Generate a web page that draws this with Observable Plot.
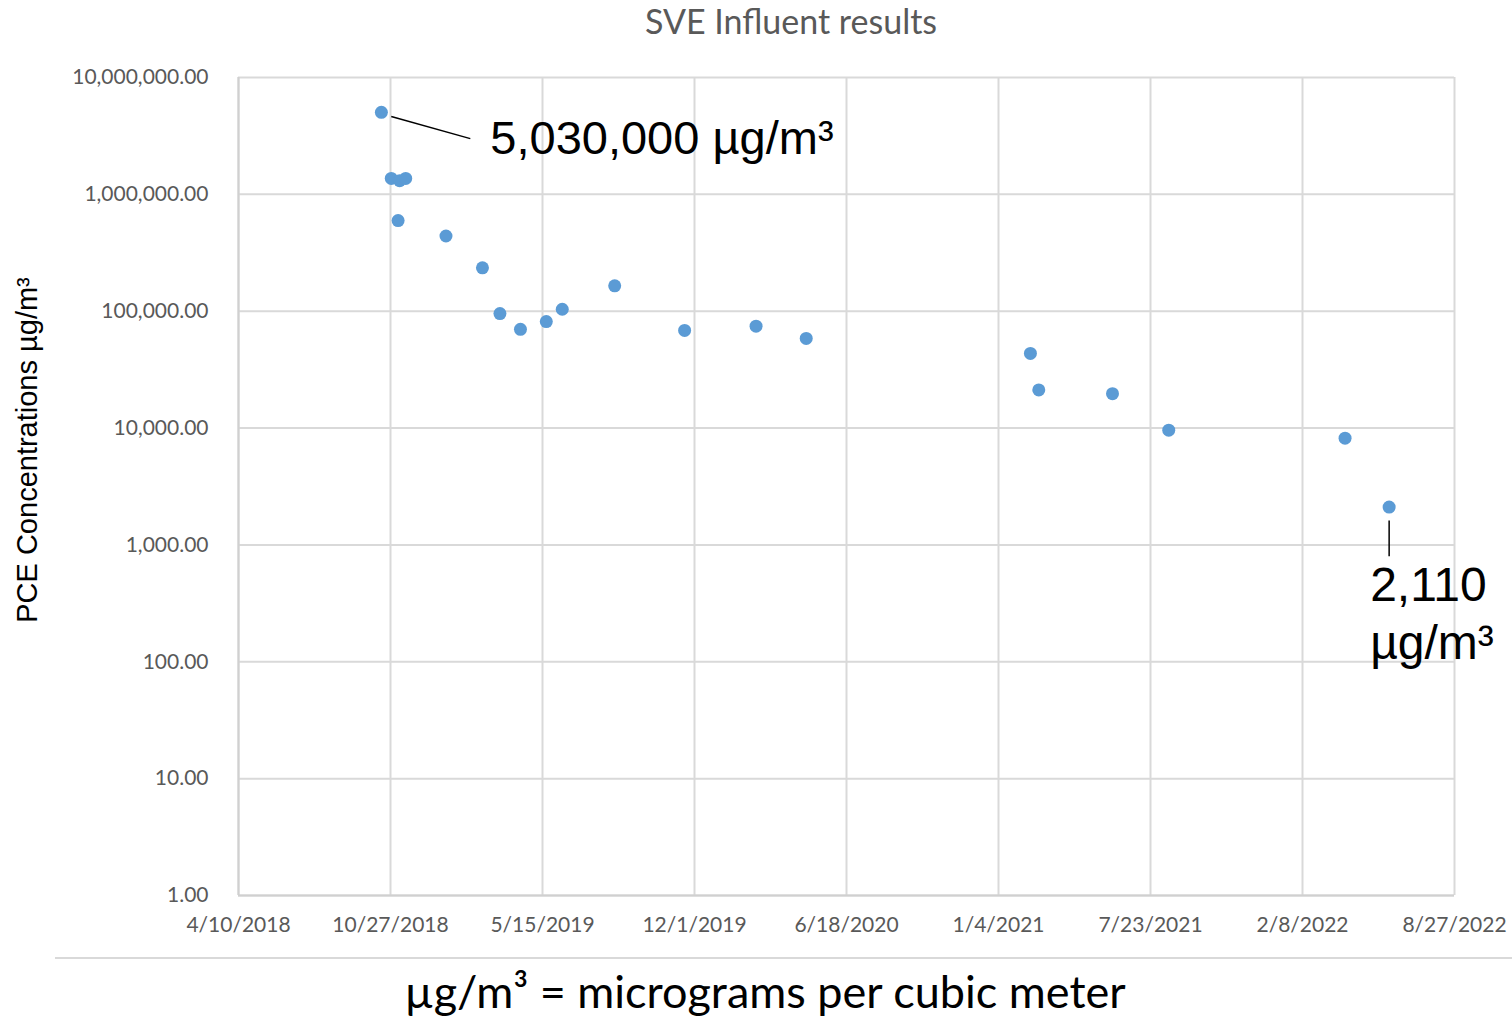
<!DOCTYPE html>
<html>
<head>
<meta charset="utf-8">
<script src="https://cdn.jsdelivr.net/npm/d3@7"></script>
<script src="https://cdn.jsdelivr.net/npm/@observablehq/plot@0.6"></script>
<style>
  html, body { margin: 0; padding: 0; background: #fff; }
  #wrap { position: relative; width: 1512px; height: 1019px; overflow: hidden; background: #fff; }
  #chart { position: absolute; left: 0; top: 0; }
  .title { position: absolute; left: 0; width: 1582px; top: 0px; text-align: center; font-family: Lato, "Open Sans", sans-serif; font-size: 34px; color: #595959; }
  .ylabel { position: absolute; left: 27px; top: 450px; transform: translate(-50%, -50%) rotate(-90deg); white-space: nowrap; font-family: "Liberation Sans", Arial, sans-serif; font-size: 29px; color: #000; }
  .sep { position: absolute; left: 55px; right: 0; top: 957px; height: 0; border-top: 2px solid #d9d9d9; }
  .caption { position: absolute; left: 0; width: 1530px; top: 964px; line-height: 1.2; text-align: center; font-family: Lato, "Open Sans", sans-serif; font-size: 45px; color: #000; }
</style>
</head>
<body>
<div id="wrap">
  <div id="chart"></div>
  <div class="title">SVE Influent results</div>
  <div class="ylabel">PCE Concentrations µg/m³</div>
  <div class="sep"></div>
  <div class="caption">µg/m³ = micrograms per cubic meter</div>
</div>
<script>
// Sample dates and PCE concentrations (µg/m³)
const sampleDates = [
  "2018-10-15", "2018-10-28", "2018-11-08", "2018-11-16", "2018-11-06",
  "2019-01-08", "2019-02-25", "2019-03-20", "2019-04-16", "2019-05-20",
  "2019-06-10", "2019-08-18", "2019-11-18", "2020-02-20", "2020-04-26",
  "2021-02-15", "2021-02-26", "2021-06-03", "2021-08-16", "2022-04-05",
  "2022-06-02"
];
const pceValues = [
  5030000, 1370000, 1310000, 1370000, 597000,
  440000, 235000, 95500, 70000, 81500,
  104000, 165000, 68500, 74500, 58500,
  43500, 21200, 19700, 9600, 8200,
  2110
];

// Axis ticks
const xTickLabels = ["4/10/2018", "10/27/2018", "5/15/2019", "12/1/2019", "6/18/2020", "1/4/2021", "7/23/2021", "2/8/2022", "8/27/2022"];
const yTickValues = [1, 10, 100, 1000, 10000, 100000, 1000000, 10000000];

// Callout annotations
const calloutText = ["5,030,000 µg/m³", "2,110\nµg/m³"];
const calloutPointDate = ["2018-10-28", "2022-06-02"];
const calloutPointValue = [4640000, 1620];
const calloutEndDate = ["2019-02-09", "2022-06-02"];
const calloutEndValue = [3000000, 800];

const parseMDY = d3.utcParse("%-m/%-d/%Y");
const xTicks = xTickLabels.map(parseMDY);
const data = sampleDates.map((d, i) => ({date: new Date(d + "T00:00:00Z"), value: pceValues[i]}));
const callouts = calloutText.map((t, i) => ({
  text: t,
  x1: new Date(calloutPointDate[i] + "T00:00:00Z"), y1: calloutPointValue[i],
  x2: new Date(calloutEndDate[i] + "T00:00:00Z"), y2: calloutEndValue[i]
}));

const plot = Plot.plot({
  width: 1512,
  height: 1019,
  marginLeft: 238,
  marginRight: 58,
  marginTop: 77,
  marginBottom: 124,
  style: {fontFamily: "Lato, 'Open Sans', sans-serif", fontSize: "21px", color: "#595959", background: "transparent", overflow: "visible"},
  x: {
    type: "utc",
    domain: [xTicks[0], xTicks[xTicks.length - 1]],
    ticks: xTicks,
    tickFormat: d3.utcFormat("%-m/%-d/%Y"),
    tickSize: 0,
    tickPadding: 22,
    label: null
  },
  y: {
    type: "log",
    domain: [1, 10000000],
    ticks: yTickValues,
    tickFormat: d3.format(",.2f"),
    tickSize: 0,
    tickPadding: 30,
    label: null
  },
  marks: [
    Plot.gridX(xTicks, {stroke: "#d9d9d9", strokeOpacity: 1, strokeWidth: 2}),
    Plot.gridY(yTickValues, {stroke: "#d9d9d9", strokeOpacity: 1, strokeWidth: 2}),
    Plot.ruleX([xTicks[0]], {stroke: "#d0d0d0", strokeWidth: 2}),
    Plot.ruleY([1], {stroke: "#d0d0d0", strokeWidth: 2}),
    Plot.link(callouts, {x1: "x1", y1: "y1", x2: "x2", y2: "y2", stroke: "#000", strokeWidth: 1.5}),
    Plot.dot(data, {x: "date", y: "value", r: 6.5, fill: "#5b9bd5", stroke: "none"}),
    Plot.text(callouts.slice(0, 1), {x: "x2", y: "y2", text: "text", textAnchor: "start", lineAnchor: "middle", dx: 20, dy: 0, fill: "#000", fontSize: 47, fontFamily: "'Liberation Sans', Arial, sans-serif"}),
    Plot.text(callouts.slice(1), {x: "x2", y: "y2", text: "text", textAnchor: "start", lineAnchor: "top", dx: -19, dy: 3, lineHeight: 1.22, fill: "#000", fontSize: 48, fontFamily: "'Liberation Sans', Arial, sans-serif"})
  ]
});
document.getElementById("chart").appendChild(plot);
</script>
</body>
</html>
